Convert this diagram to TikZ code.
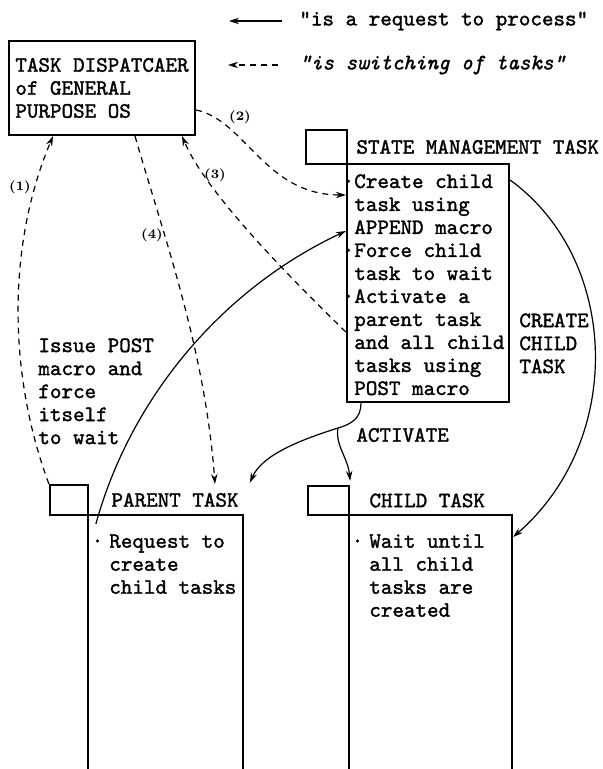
\documentclass[tikz,border=0pt]{standalone}
\usepackage{fontspec}
\setmonofont{Latin Modern Mono}[FakeBold=1.5]
\usetikzlibrary{arrows.meta,positioning}

\newcommand\boxfont{\ttfamily\fontsize{11}{11.5}\selectfont}
\newcommand\numfont{\rmfamily\bfseries\fontsize{6.5}{7}\selectfont}

\begin{document}
\begin{tikzpicture}[x=0.5pt,y=-0.5pt,
    txt/.style={font=\boxfont, align=left, inner sep=0pt},
    tbox/.style={draw, line width=1.1pt, inner sep=0pt},
    req/.style={-{Stealth[length=5pt,width=3.2pt]}, line width=0.6pt},
    sw/.style={req, dash pattern=on 3pt off 2.5pt},
    num/.style={font=\numfont, inner sep=0pt}]
  \useasboundingbox (0,0) rectangle (602,769);

  % legend
  \node[txt, anchor=west] (leg1) at (299,21) {"is a request to process"};
  \node[txt, anchor=west, font=\boxfont\itshape] (leg2) at (299,65) {"is switching of tasks"};
  \draw[req] ([xshift=-8.5pt]leg1.west) -- ++(-53,0);
  \draw[sw] ([xshift=-10.5pt]leg2.west) -- ++(-50,0);

  % dispatcher of the OS
  \node[tbox, txt, minimum width=93pt, minimum height=47pt] (disp) at (102,88)
    {TASK DISPATCAER\\of GENERAL\\PURPOSE OS};

  % state management task
  \node[tbox, minimum width=20.5pt, minimum height=17pt] (ssq) at (326.5,147) {};
  \node[txt, right=4pt of ssq] (stitle) {STATE MANAGEMENT TASK};
  \node[tbox, minimum width=81pt, minimum height=119pt] (sm) at (428,283) {};
  \node[txt, anchor=north west] (smtext) at ([shift={(4pt,-5.5pt)}]sm.north west)
    {\llap{·}Create child\\task using\\APPEND macro\\\llap{·}Force child\\task to wait\\%
     \llap{·}Activate a\\parent task\\and all child\\tasks using\\POST macro};

  % parent task (box runs off the bottom)
  \node[tbox, minimum width=19pt, minimum height=15pt] (psq) at (69,500) {};
  \node[txt, right=11pt of psq] (ptitle) {PARENT TASK};
  \node[tbox, minimum width=77.5pt, minimum height=137.5pt] (pbox) at (165.5,652.5) {};
  \node[txt, anchor=north west] (ptext) at ([shift={(11pt,-10pt)}]pbox.north west)
    {\llap{·\hspace{3pt}}Request to\\create\\child tasks};
  \coordinate (ptop) at (215,484);

  % child task
  \node[tbox, minimum width=20.5pt, minimum height=14.5pt] (csq) at (328.5,500.5) {};
  \node[txt, right=9.5pt of csq] (ctitle) {CHILD TASK};
  \node[tbox, minimum width=81.5pt, minimum height=137.5pt] (cbox) at (430.5,652.5) {};
  \node[txt, anchor=north west] (ctext) at ([shift={(10.5pt,-10pt)}]cbox.north west)
    {\llap{·\hspace{3pt}}Wait until\\all child\\tasks are\\created};

  % side texts
  \node[txt, anchor=north west] (issue) at (38,338) {Issue POST\\macro and\\force\\itself\\to wait};
  \node[txt, anchor=north west] (crt) at (519,313) {CREATE\\CHILD\\TASK};
  \node[txt, anchor=west] (actl) at (356,435) {ACTIVATE};

  % switching of tasks
  \draw[sw] (psq.north west) .. controls (10,380) and (5,250) .. (disp.south -| 53,0);
  \draw[sw] (disp.east |- 0,110) .. controls (245,120) and (265,195) .. (sm.west |- 0,195);
  \draw[sw] (sm.west |- 0,332) .. controls (280,268) and (205,190) .. (disp.south -| 182,0);
  \draw[sw] (disp.south -| 135,0) .. controls (165,240) and (205,350) .. (ptop);
  \node[num] (n1) at (20,187) {(1)};
  \node[num] (n2) at (240,117) {(2)};
  \node[num] (n3) at (215,175) {(3)};
  \node[num] (n4) at (152,235) {(4)};

  % requests
  \draw[req] ([shift={(4.5pt,-5pt)}]pbox.north west) .. controls (130,400) and (220,290) .. (sm.west |- 0,231);
  \draw[req] (sm.east |- 0,180) .. controls (620,260) and (625,440) .. (cbox.east |- 0,537);
  \coordinate (act) at (338,428);
  \draw[line width=0.6pt] (sm.south -| 361,0) .. controls (361,418) and (352,424) .. (act);
  \draw[req] (act) .. controls (300,440) and (262,455) .. ([shift={(5.5pt,5pt)}]ptitle.north east);
  \draw[req] (act) .. controls (335,445) and (348,458) .. ([yshift=2pt]csq.north east);
\end{tikzpicture}
\end{document}
